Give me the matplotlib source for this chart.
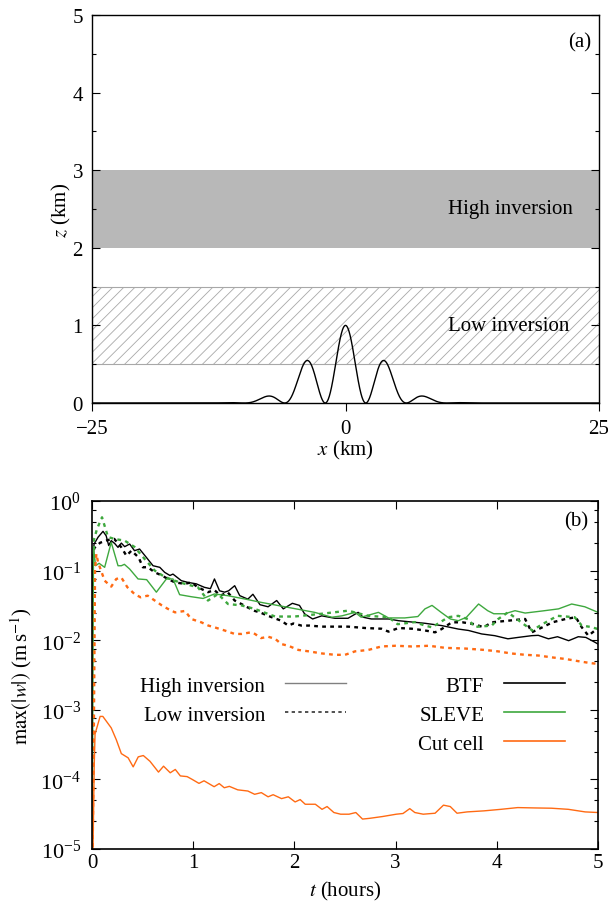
import numpy as np
import matplotlib
matplotlib.use("Agg")
import matplotlib.pyplot as plt
from matplotlib.ticker import MultipleLocator, LogLocator, NullFormatter
from matplotlib.lines import Line2D

plt.rcParams['font.family'] = ['Liberation Serif', 'DejaVu Serif']
plt.rcParams['mathtext.fontset'] = 'stix'
plt.rcParams['hatch.color'] = '#a8a8a8'
plt.rcParams['hatch.linewidth'] = 0.6

# ---------------- data ----------------
# Panel (a): Schaer-type mountain parameters (km)
mountain_h0 = 1.0
mountain_a = 5.0
mountain_lambda = 4.0
high_inversion = (2.0, 3.0)
low_inversion = (0.5, 1.5)

# Panel (b): max|w| time series, log10 values
btf_high_t = [0.0, 0.005, 0.02, 0.06, 0.109, 0.14, 0.165, 0.19, 0.224, 0.257, 0.29, 0.323, 0.372, 0.42, 0.47,
              0.537, 0.603, 0.67, 0.718, 0.77, 0.8, 0.883, 0.95, 1.03, 1.11, 1.17, 1.21, 1.26, 1.31, 1.35, 1.41,
              1.46, 1.54, 1.59, 1.66, 1.74, 1.825, 1.89, 1.98, 2.05, 2.1, 2.18, 2.27, 2.4, 2.53, 2.63, 2.68,
              2.76, 2.93, 3.03, 3.19, 3.29, 3.455, 3.62, 3.72, 3.85, 3.98, 4.11, 4.21, 4.345, 4.41, 4.51, 4.6,
              4.71, 4.805, 4.88, 4.97, 5.0]
btf_high_log = [-6, -1.0, -0.62, -0.52, -0.436, -0.50, -0.64, -0.57, -0.61, -0.666, -0.605, -0.656, -0.618, -0.714,
                -0.69, -0.81, -0.93, -0.953, -1.025, -1.07, -1.05, -1.145, -1.17, -1.19, -1.24, -1.26, -1.12, -1.29,
                -1.31, -1.29, -1.217, -1.36, -1.41, -1.34, -1.49, -1.52, -1.43, -1.55, -1.47, -1.50, -1.62, -1.695,
                -1.65, -1.685, -1.685, -1.6, -1.67, -1.695, -1.695, -1.72, -1.743, -1.757, -1.79, -1.84, -1.86,
                -1.91, -1.935, -1.98, -1.96, -1.935, -1.93, -1.98, -1.95, -2.007, -1.95, -1.96, -2.03, -2.055]

btf_low_t = [0.0, 0.005, 0.02, 0.08, 0.158, 0.22, 0.29, 0.34, 0.39, 0.46, 0.504, 0.55, 0.62, 0.69, 0.75, 0.82,
             0.916, 0.98, 1.047, 1.146, 1.21, 1.27, 1.34, 1.41, 1.476, 1.54, 1.61, 1.66, 1.74, 1.87, 1.94, 1.99,
             2.07, 2.15, 2.27, 2.53, 2.70, 2.86, 2.93, 3.03, 3.16, 3.29, 3.39, 3.455, 3.555, 3.66, 3.78, 3.87,
             3.95, 4.11, 4.28, 4.345, 4.45, 4.55, 4.68, 4.78, 4.84, 4.905, 4.97, 5.0]
btf_low_log = [-6, -1.0, -0.68, -0.60, -0.56, -0.545, -0.666, -0.786, -0.714, -0.81, -0.953, -0.95, -1.025, -1.07,
               -1.12, -1.17, -1.19, -1.17, -1.24, -1.31, -1.28, -1.36, -1.31, -1.43, -1.48, -1.53, -1.58, -1.60,
               -1.65, -1.72, -1.79, -1.76, -1.79, -1.79, -1.805, -1.805, -1.825, -1.835, -1.877, -1.825, -1.835,
               -1.86, -1.887, -1.84, -1.743, -1.743, -1.77, -1.815, -1.743, -1.72, -1.695, -1.887, -1.815, -1.743,
               -1.695, -1.67, -1.815, -1.935, -1.86, -1.85]

sleve_high_t = [0.0, 0.008, 0.015, 0.035, 0.07, 0.125, 0.19, 0.257, 0.29, 0.32, 0.372, 0.455, 0.54, 0.636, 0.735,
                0.8, 0.866, 0.98, 1.097, 1.21, 1.34, 1.51, 1.67, 2.2, 2.37, 2.47, 2.6, 2.66, 2.83, 2.93, 3.09,
                3.22, 3.29, 3.36, 3.45, 3.54, 3.62, 3.7, 3.82, 3.91, 3.97, 4.08, 4.18, 4.28, 4.45, 4.61, 4.74,
                4.87, 5.0]
sleve_high_log = [-6, -3.0, -0.66, -0.93, -0.895, -0.953, -0.594, -0.93, -0.93, -0.91, -0.977, -1.12, -1.13, -1.31,
                  -1.12, -1.12, -1.346, -1.375, -1.40, -1.336, -1.36, -1.408, -1.456, -1.60, -1.67, -1.65, -1.60,
                  -1.67, -1.60, -1.68, -1.68, -1.66, -1.55, -1.50, -1.60, -1.695, -1.72, -1.67, -1.48, -1.576,
                  -1.62, -1.62, -1.576, -1.61, -1.58, -1.55, -1.48, -1.52, -1.60]

sleve_low_t = [0.0, 0.012, 0.02, 0.05, 0.099, 0.158, 0.224, 0.323, 0.42, 0.52, 0.62, 0.718, 0.817, 0.916, 1.047,
               1.146, 1.245, 1.344, 1.476, 1.607, 1.81, 2.0, 2.27, 2.53, 2.73, 2.93, 3.02, 3.19, 3.29, 3.36, 3.52,
               3.62, 3.72, 3.78, 3.95, 4.01, 4.11, 4.22, 4.35, 4.45, 4.6, 4.77, 4.84, 4.93, 5.0]
sleve_low_log = [-6, -3.0, -0.55, -0.40, -0.234, -0.517, -0.546, -0.57, -0.66, -0.833, -1.0, -1.09, -1.145, -1.19,
                 -1.24, -1.43, -1.336, -1.48, -1.50, -1.55, -1.66, -1.66, -1.62, -1.576, -1.65, -1.67, -1.77, -1.74,
                 -1.79, -1.815, -1.67, -1.65, -1.70, -1.81, -1.79, -1.70, -1.60, -1.72, -1.86, -1.77, -1.65, -1.67,
                 -1.79, -1.81, -1.84]

cut_high_t = [0.0, 0.022, 0.03, 0.08, 0.107, 0.19, 0.24, 0.29, 0.357, 0.407, 0.457, 0.507, 0.573, 0.657, 0.707,
              0.773, 0.823, 0.873, 0.94, 0.99, 1.057, 1.107, 1.207, 1.257, 1.307, 1.357, 1.44, 1.54, 1.607, 1.673,
              1.74, 1.79, 1.873, 1.94, 2.007, 2.057, 2.107, 2.207, 2.273, 2.323, 2.39, 2.457, 2.54, 2.607, 2.673,
              2.74, 2.873, 3.007, 3.073, 3.14, 3.19, 3.273, 3.39, 3.473, 3.54, 3.607, 3.707, 3.873, 4.04, 4.207,
              4.373, 4.54, 4.707, 4.873, 5.0]
cut_high_log = [-6, -3.8, -3.35, -3.095, -3.095, -3.26, -3.43, -3.63, -3.69, -3.82, -3.676, -3.657, -3.74, -3.895,
                -3.81, -3.905, -3.857, -3.95, -3.96, -4.0, -4.057, -4.02, -4.105, -4.06, -4.12, -4.10, -4.15, -4.167,
                -4.214, -4.19, -4.25, -4.22, -4.276, -4.25, -4.324, -4.29, -4.357, -4.357, -4.43, -4.39, -4.476,
                -4.5, -4.5, -4.476, -4.57, -4.56, -4.533, -4.5, -4.49, -4.42, -4.476, -4.5, -4.486, -4.37, -4.39,
                -4.486, -4.467, -4.452, -4.43, -4.405, -4.41, -4.414, -4.43, -4.467, -4.476]

cut_low_t = [0.0, 0.02, 0.03, 0.043, 0.06, 0.125, 0.19, 0.24, 0.29, 0.35, 0.42, 0.48, 0.55, 0.62, 0.69, 0.75, 0.82,
             0.92, 0.98, 1.08, 1.15, 1.21, 1.31, 1.41, 1.48, 1.57, 1.61, 1.67, 1.74, 1.81, 1.87, 1.94, 2.04, 2.14,
             2.27, 2.40, 2.5, 2.6, 2.73, 2.86, 3.0, 3.16, 3.33, 3.49, 3.69, 3.88, 4.01, 4.14, 4.28, 4.41, 4.54,
             4.68, 4.8, 4.93, 5.0]
cut_low_log = [-6, -3.0, -1.0, -0.76, -0.88, -1.145, -1.23, -1.12, -1.10, -1.24, -1.336, -1.384, -1.36, -1.43, -1.50,
               -1.55, -1.60, -1.58, -1.695, -1.743, -1.79, -1.815, -1.86, -1.91, -1.91, -1.887, -1.91, -1.97, -1.95,
               -1.98, -2.055, -2.08, -2.14, -2.16, -2.19, -2.21, -2.21, -2.16, -2.14, -2.09, -2.08, -2.09, -2.08,
               -2.11, -2.12, -2.14, -2.16, -2.19, -2.21, -2.22, -2.246, -2.27, -2.30, -2.33, -2.34]

series_names = ['BTF', 'SLEVE', 'Cut cell']
series_colors = ['#000000', '#3ea83e', '#ff6a13']

# ---------------- figure ----------------
FS = 15
W, H = 608, 903
fig = plt.figure(figsize=(W / 100, H / 100), dpi=100)

# Panel (a)
ax_a = fig.add_axes([92 / W, 1 - 404 / H, (599 - 92) / W, (404 - 16) / H])
ax_a.axhspan(*high_inversion, facecolor='#b8b8b8', edgecolor='none', zorder=1)
ax_a.axhspan(*low_inversion, facecolor='none', edgecolor='#a8a8a8', hatch='///', linewidth=0.8, zorder=1)
x = np.linspace(-25, 25, 2001)
h = mountain_h0 * np.exp(-(x / mountain_a) ** 2) * np.cos(np.pi * x / mountain_lambda) ** 2
ax_a.plot(x, h, color='black', lw=1.0, zorder=3)
ax_a.set_xlim(-25, 25)
ax_a.set_ylim(0, 5)
ax_a.set_xticks([-25, 0, 25])
ax_a.set_xticklabels(['\u221225', '0', '25'])
ax_a.set_yticks([0, 1, 2, 3, 4, 5])
ax_a.yaxis.set_minor_locator(MultipleLocator(0.5))
ax_a.tick_params(axis='y', which='both', direction='in', left=True, right=True, labelsize=FS, pad=6.5)
ax_a.tick_params(axis='y', which='major', length=6, width=0.8)
ax_a.tick_params(axis='y', which='minor', length=3, width=0.8)
ax_a.tick_params(axis='x', which='both', direction='out', length=5.5, width=0.8, top=False, labelsize=FS, pad=6)
ax_a.set_xlabel('$x$ (km)', fontsize=FS)
ax_a.set_ylabel('$z$ (km)', fontsize=FS)
ax_a.xaxis.set_label_coords(0.5, -0.09)
ax_a.yaxis.set_label_coords(-0.037, 0.5)
ax_a.text(24.2, 4.65, '(a)', ha='right', va='center', fontsize=FS)
ax_a.text(10.1, 2.5, 'High inversion', ha='left', va='center', fontsize=FS)
ax_a.text(10.1, 1.0, 'Low inversion', ha='left', va='center', fontsize=FS)
for s in ax_a.spines.values():
    s.set_linewidth(1.0)

# Panel (b)
ax_b = fig.add_axes([92 / W, 1 - 850 / H, (598 - 92) / W, (850 - 502) / H])
ax_b.set_yscale('log')
solid_kw = dict(lw=1.0)
dash_kw = dict(lw=1.7, dashes=(1.6, 1.8))
pairs = [(btf_high_t, btf_high_log, btf_low_t, btf_low_log),
         (sleve_high_t, sleve_high_log, sleve_low_t, sleve_low_log),
         (cut_high_t, cut_high_log, cut_low_t, cut_low_log)]
for (th, lh, tl, ll), col in zip(pairs, series_colors):
    ax_b.plot(tl, 10.0 ** np.array(ll), color=col, **dash_kw)
    ax_b.plot(th, 10.0 ** np.array(lh), color=col, **solid_kw)
ax_b.set_xlim(0, 5)
ax_b.set_ylim(1e-5, 1e0)
ax_b.set_xticks([0, 1, 2, 3, 4, 5])
ax_b.yaxis.set_major_locator(LogLocator(base=10, numticks=10))
ax_b.yaxis.set_minor_locator(LogLocator(base=10, subs=[2.5, 5.0, 7.5], numticks=20))
ax_b.yaxis.set_minor_formatter(NullFormatter())
ax_b.tick_params(which='both', direction='in', left=True, right=True, top=True, bottom=True, labelsize=FS)
ax_b.tick_params(which='major', length=6, width=0.8)
ax_b.tick_params(which='minor', length=3, width=0.8)
ax_b.tick_params(axis='x', pad=3)
ax_b.tick_params(axis='y', pad=8, labelsize=16)
ax_b.set_xlabel('$t$ (hours)', fontsize=FS)
ax_b.set_ylabel(r'$\mathrm{max}(|w|)$ (m$\,$s$^{-1}$)', fontsize=FS)
ax_b.xaxis.set_label_coords(0.5, -0.085)
ax_b.yaxis.set_label_coords(-0.115, 0.5)
ax_b.text(4.9, 10 ** -0.287, '(b)', ha='right', va='center', fontsize=FS)
for s in ax_b.spines.values():
    s.set_linewidth(1.2)

style_handles = [Line2D([], [], color='#808080', lw=1.0),
                 Line2D([], [], color='#333333', lw=1.2, dashes=(2.0, 2.0))]
leg_kw = dict(loc='upper right', frameon=False, markerfirst=False, fontsize=FS, handlelength=2.95,
              handletextpad=0.94, labelspacing=0.45, borderpad=0, borderaxespad=0)
leg1 = ax_b.legend(style_handles, ['High inversion', 'Low inversion'], bbox_to_anchor=(0.502, 0.497), **leg_kw)
ax_b.add_artist(leg1)
model_handles = [Line2D([], [], color=c, lw=1.2) for c in series_colors]
ax_b.legend(model_handles, series_names, bbox_to_anchor=(0.935, 0.497), **leg_kw)

fig.savefig('out.png', dpi=100)
